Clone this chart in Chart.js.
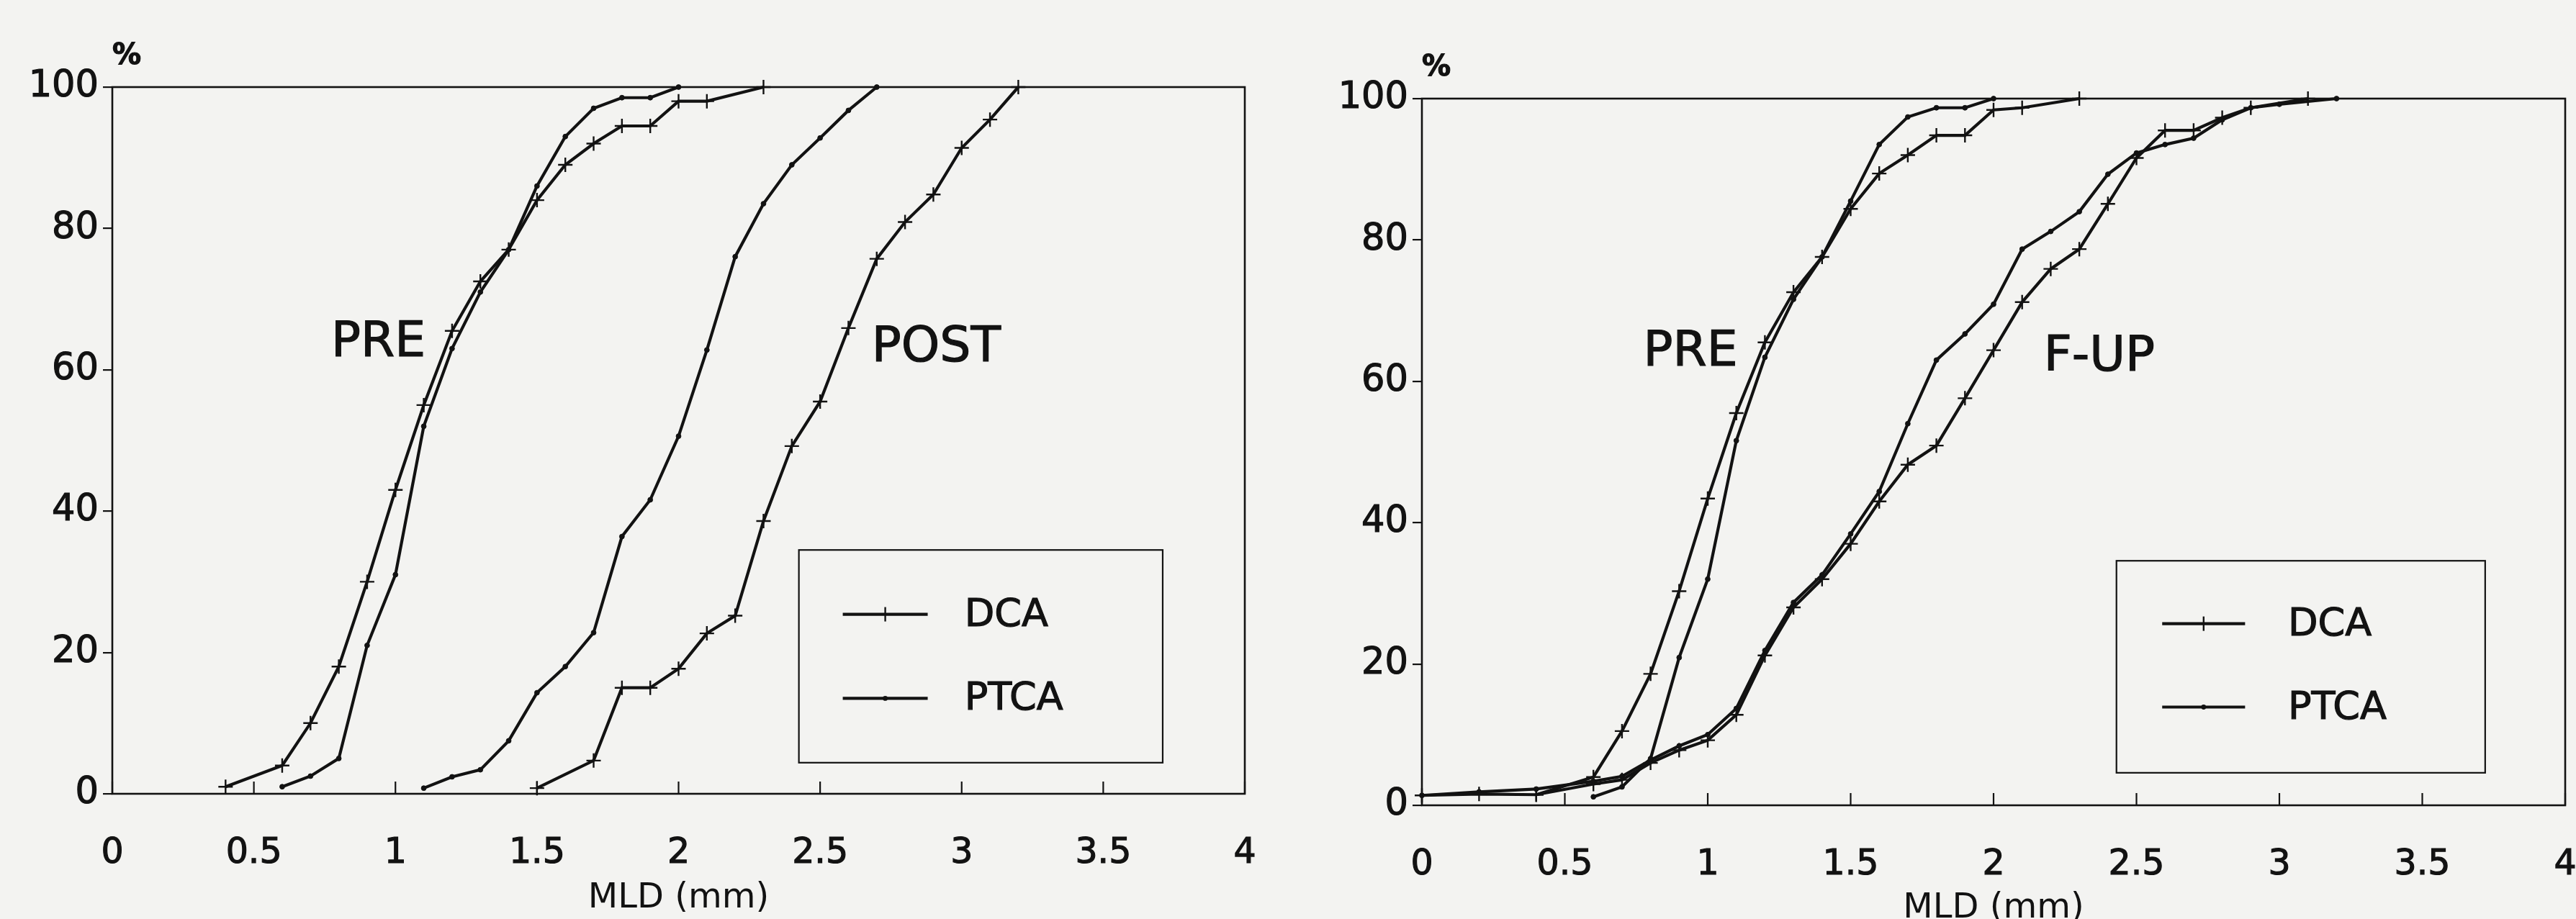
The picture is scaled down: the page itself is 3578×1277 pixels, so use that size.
<!DOCTYPE html>
<html><head><meta charset="utf-8">
<script src="https://cdn.jsdelivr.net/npm/chart.js@4/dist/chart.umd.min.js"></script>
<style>
html,body{margin:0;padding:0;background:#f3f3f1;}
#wrap{position:relative;width:3578px;height:1277px;overflow:hidden;background:#f3f3f1;}
.pane{position:absolute;top:0;height:1277px;}
#p1{left:0;width:1790px;}
#p2{left:1790px;width:1788px;}
</style></head><body>
<div id="wrap">
  <div class="pane" id="p1"><canvas id="c1"></canvas></div>
  <div class="pane" id="p2"><canvas id="c2"></canvas></div>
</div>
<script>
// ---------- axes ----------
const xTickValues = [0, 0.5, 1, 1.5, 2, 2.5, 3, 3.5, 4];
const xTickLabels = ['0', '0.5', '1', '1.5', '2', '2.5', '3', '3.5', '4'];
const yTickValues = [0, 20, 40, 60, 80, 100];
const yTickLabels = ['0', '20', '40', '60', '80', '100'];
const xAxisTitle = 'MLD (mm)';
const yAxisUnit = '%';
const seriesNames = ['DCA', 'PTCA'];

// ---------- left panel: PRE / POST ----------
const leftPreDcaMld  = [0.4, 0.6, 0.7, 0.8, 0.9, 1.0, 1.1, 1.2, 1.3, 1.4, 1.5, 1.6, 1.7, 1.8, 1.9, 2.0, 2.1, 2.3];
const leftPreDcaPct  = [1, 4, 10, 18, 30, 43, 55, 65.5, 72.5, 77, 84, 89, 92, 94.5, 94.5, 98, 98, 100];
const leftPrePtcaMld = [0.6, 0.7, 0.8, 0.9, 1.0, 1.1, 1.2, 1.3, 1.4, 1.5, 1.6, 1.7, 1.8, 1.9, 2.0];
const leftPrePtcaPct = [1, 2.5, 5, 21, 31, 52, 63, 71, 77, 86, 93, 97, 98.5, 98.5, 100];
const postDcaMld  = [1.5, 1.7, 1.8, 1.9, 2.0, 2.1, 2.2, 2.3, 2.4, 2.5, 2.6, 2.7, 2.8, 2.9, 3.0, 3.1, 3.2];
const postDcaPct  = [0.8, 4.7, 15, 15, 17.7, 22.7, 25.2, 38.6, 49.2, 55.5, 65.9, 75.7, 80.9, 84.8, 91.4, 95.4, 100];
const postPtcaMld = [1.1, 1.2, 1.3, 1.4, 1.5, 1.6, 1.7, 1.8, 1.9, 2.0, 2.1, 2.2, 2.3, 2.4, 2.5, 2.6, 2.7];
const postPtcaPct = [0.8, 2.4, 3.4, 7.5, 14.3, 18, 22.8, 36.4, 41.6, 50.6, 62.8, 76, 83.5, 89, 92.8, 96.7, 100];

// ---------- right panel: PRE / F-UP ----------
const rightPreDcaMld  = [0.4, 0.6, 0.7, 0.8, 0.9, 1.0, 1.1, 1.2, 1.3, 1.4, 1.5, 1.6, 1.7, 1.8, 1.9, 2.0, 2.1, 2.3];
const rightPreDcaPct  = [1.5, 4, 10.5, 18.6, 30.3, 43.4, 55.5, 65.5, 72.6, 77.6, 84.4, 89.4, 92, 94.8, 94.8, 98.4, 98.7, 100];
const rightPrePtcaMld = [0.6, 0.7, 0.8, 0.9, 1.0, 1.1, 1.2, 1.3, 1.4, 1.5, 1.6, 1.7, 1.8, 1.9, 2.0];
const rightPrePtcaPct = [1.2, 2.6, 6.6, 20.9, 32, 51.6, 63.4, 71.6, 77.6, 85.5, 93.5, 97.4, 98.7, 98.7, 100];
const fupDcaMld  = [0, 0.2, 0.4, 0.6, 0.7, 0.8, 0.9, 1.0, 1.1, 1.2, 1.3, 1.4, 1.5, 1.6, 1.7, 1.8, 1.9, 2.0, 2.1, 2.2, 2.3, 2.4, 2.5, 2.6, 2.7, 2.8, 2.9, 3.1];
const fupDcaPct  = [1.4, 1.6, 1.5, 3.0, 3.6, 6.0, 7.8, 9.2, 12.8, 21.2, 28.0, 32.0, 37.0, 43.0, 48.2, 50.9, 57.6, 64.4, 71.2, 75.9, 78.7, 85.1, 91.6, 95.5, 95.5, 97.3, 98.7, 100];
const fupPtcaMld = [0, 0.2, 0.4, 0.6, 0.7, 0.8, 0.9, 1.0, 1.1, 1.2, 1.3, 1.4, 1.5, 1.6, 1.7, 1.8, 1.9, 2.0, 2.1, 2.2, 2.3, 2.4, 2.5, 2.6, 2.7, 2.8, 2.9, 3.0, 3.2];
const fupPtcaPct = [1.4, 1.9, 2.3, 3.4, 4.1, 6.4, 8.4, 10, 13.7, 21.9, 28.7, 32.6, 38.4, 44.4, 54, 63, 66.7, 70.9, 78.7, 81.2, 84, 89.3, 92.3, 93.5, 94.4, 97, 98.7, 99.2, 100];

// ---------- annotations (data coordinates) ----------
const leftNotes  = [{text: 'PRE', x: 0.94, y: 63.7}, {text: 'POST', x: 2.91, y: 63.0}];
const rightNotes = [{text: 'PRE', x: 0.94, y: 64.0}, {text: 'F-UP', x: 2.37, y: 63.3}];
const leftLegendBox  = {x0: 2.425, x1: 3.71, y0: 34.5, y1: 4.4, lx0: 2.58, lx1: 2.88, tx: 3.01, rows: [25.4, 13.5]};
const rightLegendBox = {x0: 2.43, x1: 3.72, y0: 34.6, y1: 4.6, lx0: 2.59, lx1: 2.88, tx: 3.03, rows: [25.7, 13.9]};

const ink = '#121212';
const fam = '"DejaVu Sans", "Liberation Sans", sans-serif';

function pts(xs, ys) { return xs.map((x, i) => ({x: x, y: ys[i]})); }
function ds(name, xs, ys) {
  const dca = name === 'DCA';
  return {
    label: name, data: pts(xs, ys), showLine: true,
    borderColor: ink, backgroundColor: ink, borderWidth: 4.2,
    pointStyle: dca ? 'cross' : 'circle',
    pointRadius: dca ? 10 : 3.4,
    pointBorderWidth: dca ? 2.4 : 1,
    pointBorderColor: ink, pointBackgroundColor: ink,
    tension: 0, fill: false, clip: false
  };
}

function heavyText(ctx, t, x, y) {
  ctx.fillText(t, x, y);
  ctx.strokeText(t, x, y);
}

function decorPlugin(notes, lg) {
  return {
    id: 'decor',
    afterDatasetsDraw(chart) {
      const ctx = chart.ctx, a = chart.chartArea, sx = chart.scales.x, sy = chart.scales.y;
      ctx.save();
      // frame
      ctx.strokeStyle = ink; ctx.lineWidth = 2.6;
      ctx.strokeRect(a.left, a.top, a.right - a.left, a.bottom - a.top);
      // inward x ticks
      ctx.lineWidth = 2.2;
      xTickValues.forEach(v => {
        const px = sx.getPixelForValue(v);
        ctx.beginPath(); ctx.moveTo(px, a.bottom); ctx.lineTo(px, a.bottom - 17); ctx.stroke();
      });
      // % unit
      ctx.fillStyle = ink;
      ctx.font = 'bold 40px ' + fam;
      ctx.textAlign = 'center'; ctx.textBaseline = 'middle';
      ctx.lineWidth = 1.2;
      heavyText(ctx, yAxisUnit, a.left + 20, a.top - 42);
      // curve labels
      ctx.font = '68px ' + fam;
      notes.forEach(n => heavyText(ctx, n.text, sx.getPixelForValue(n.x), sy.getPixelForValue(n.y)));
      // legend
      const bx0 = sx.getPixelForValue(lg.x0), bx1 = sx.getPixelForValue(lg.x1);
      const by0 = sy.getPixelForValue(lg.y0), by1 = sy.getPixelForValue(lg.y1);
      ctx.lineWidth = 2.2;
      ctx.strokeRect(bx0, by0, bx1 - bx0, by1 - by0);
      ctx.font = '54px ' + fam; ctx.textAlign = 'left';
      seriesNames.forEach((name, i) => {
        const yy = sy.getPixelForValue(lg.rows[i]);
        const lx0 = sx.getPixelForValue(lg.lx0), lx1 = sx.getPixelForValue(lg.lx1);
        ctx.lineWidth = 4.2;
        ctx.beginPath(); ctx.moveTo(lx0, yy); ctx.lineTo(lx1, yy); ctx.stroke();
        const mx = (lx0 + lx1) / 2;
        if (name === 'DCA') {
          ctx.lineWidth = 2.4;
          ctx.beginPath(); ctx.moveTo(mx, yy - 10); ctx.lineTo(mx, yy + 10); ctx.stroke();
        } else {
          ctx.beginPath(); ctx.arc(mx, yy, 3.4, 0, Math.PI * 2); ctx.fill();
        }
        ctx.lineWidth = 1.2;
        heavyText(ctx, name, sx.getPixelForValue(lg.tx), yy + 2);
      });
      ctx.restore();
    }
  };
}

function makeChart(id, datasets, cfg, notes, lg) {
  return new Chart(document.getElementById(id), {
    type: 'scatter',
    data: {datasets: datasets},
    options: {
      responsive: true, maintainAspectRatio: false, animation: false,
      layout: {padding: {left: 0, right: cfg.padR, top: cfg.padT, bottom: 0}},
      plugins: {legend: {display: false}, tooltip: {enabled: false}},
      scales: {
        x: {
          type: 'linear', min: 0, max: 4,
          afterBuildTicks: s => { s.ticks = xTickValues.map(v => ({value: v})); },
          afterFit: s => { s.height = cfg.xH; s.paddingLeft = 0; s.paddingRight = 0; s.paddingTop = 0; s.paddingBottom = 0; },
          grid: {display: false, drawTicks: false},
          border: {display: false},
          ticks: {padding: 54, color: ink, autoSkip: false, maxRotation: 0,
                  textStrokeColor: ink, textStrokeWidth: 1.2,
                  font: {family: fam, size: 49},
                  callback: (v, i) => xTickLabels[i]},
          title: {display: true, text: xAxisTitle, color: ink,
                  font: {family: fam, size: 48, lineHeight: cfg.tLH},
                  padding: {top: 0, bottom: cfg.tPB}}
        },
        y: {
          type: 'linear', min: 0, max: 100,
          afterBuildTicks: s => { s.ticks = yTickValues.map(v => ({value: v})); },
          afterFit: s => { s.width = cfg.yW; s.paddingLeft = 0; s.paddingRight = 0; s.paddingTop = 0; s.paddingBottom = 0; },
          grid: {drawOnChartArea: false, drawTicks: true, tickLength: 13, color: ink, lineWidth: 2.2},
          border: {display: false},
          ticks: {padding: 6, color: ink, font: {family: fam, size: 51},
                  textStrokeColor: ink, textStrokeWidth: 1.2,
                  callback: (v, i) => yTickLabels[i]}
        }
      }
    },
    plugins: [decorPlugin(notes, lg)]
  });
}

makeChart('c1', [
  ds(seriesNames[0], leftPreDcaMld, leftPreDcaPct),
  ds(seriesNames[1], leftPrePtcaMld, leftPrePtcaPct),
  ds(seriesNames[0], postDcaMld, postDcaPct),
  ds(seriesNames[1], postPtcaMld, postPtcaPct)
], {padR: 61, padT: 121, xH: 174, yW: 156, tLH: 1.2, tPB: 0}, leftNotes, leftLegendBox);

makeChart('c2', [
  ds(seriesNames[0], rightPreDcaMld, rightPreDcaPct),
  ds(seriesNames[1], rightPrePtcaMld, rightPrePtcaPct),
  ds(seriesNames[0], fupDcaMld, fupDcaPct),
  ds(seriesNames[1], fupPtcaMld, fupPtcaPct)
], {padR: 15, padT: 137, xH: 158, yW: 185, tLH: 0.6, tPB: 0}, rightNotes, rightLegendBox);
</script>
</body></html>
